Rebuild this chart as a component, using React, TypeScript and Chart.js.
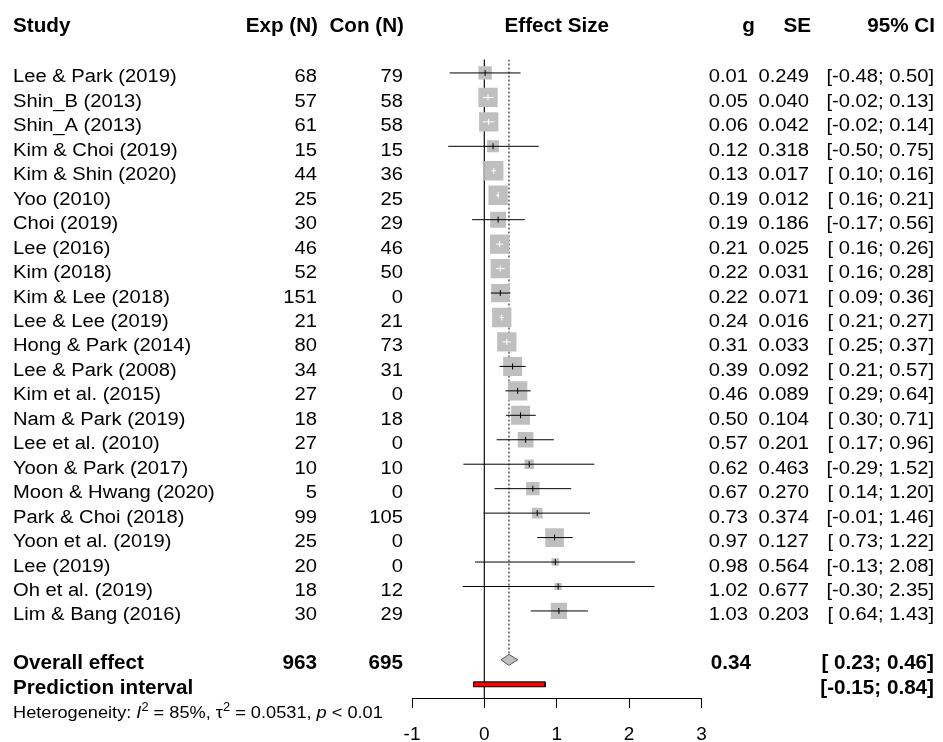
import React, { useEffect, useRef } from 'react';
import { Chart, registerables } from 'chart.js';

Chart.register(...registerables);

// ---------------- data ----------------
const studies = [
  'Lee & Park (2019)', 'Shin_B (2013)', 'Shin_A (2013)', 'Kim & Choi (2019)', 'Kim & Shin (2020)',
  'Yoo (2010)', 'Choi (2019)', 'Lee (2016)', 'Kim (2018)', 'Kim & Lee (2018)', 'Lee & Lee (2019)',
  'Hong & Park (2014)', 'Lee & Park (2008)', 'Kim et al. (2015)', 'Nam & Park (2019)', 'Lee et al. (2010)',
  'Yoon & Park (2017)', 'Moon & Hwang (2020)', 'Park & Choi (2018)', 'Yoon et al. (2019)', 'Lee (2019)',
  'Oh et al. (2019)', 'Lim & Bang (2016)',
];
const expN = [68, 57, 61, 15, 44, 25, 30, 46, 52, 151, 21, 80, 34, 27, 18, 27, 10, 5, 99, 25, 20, 18, 30];
const conN = [79, 58, 58, 15, 36, 25, 29, 46, 50, 0, 21, 73, 31, 0, 18, 0, 10, 0, 105, 0, 0, 12, 29];
const effect = [0.01, 0.05, 0.06, 0.12, 0.13, 0.19, 0.19, 0.21, 0.22, 0.22, 0.24, 0.31, 0.39, 0.46, 0.5, 0.57, 0.62, 0.67, 0.73, 0.97, 0.98, 1.02, 1.03];
const seValues = [0.249, 0.04, 0.042, 0.318, 0.017, 0.012, 0.186, 0.025, 0.031, 0.071, 0.016, 0.033, 0.092, 0.089, 0.104, 0.201, 0.463, 0.27, 0.374, 0.127, 0.564, 0.677, 0.203];
const ciLower = [-0.48, -0.02, -0.02, -0.5, 0.1, 0.16, -0.17, 0.16, 0.16, 0.09, 0.21, 0.25, 0.21, 0.29, 0.3, 0.17, -0.29, 0.14, -0.01, 0.73, -0.13, -0.3, 0.64];
const ciUpper = [0.5, 0.13, 0.14, 0.75, 0.16, 0.21, 0.56, 0.26, 0.28, 0.36, 0.27, 0.37, 0.57, 0.64, 0.71, 0.96, 1.52, 1.2, 1.46, 1.22, 2.08, 2.35, 1.43];
// relative weights (%) read from the square areas
const weights = [2.8, 5.9, 5.9, 2.3, 5.9, 5.9, 4.0, 5.9, 5.9, 5.3, 5.9, 5.9, 5.7, 5.9, 5.7, 3.9, 1.4, 2.8, 1.8, 5.5, 0.9, 0.8, 4.2];

const headers = ['Study', 'Exp (N)', 'Con (N)', 'Effect Size', 'g', 'SE', '95% CI'];
const overallLabel = 'Overall effect';
const predictionLabel = 'Prediction interval';
const totalExp = 963;
const totalCon = 695;
const overallEffect = 0.34;
const overallLower = 0.23;
const overallUpper = 0.46;
const predLower = -0.15;
const predUpper = 0.84;
const hetI2 = '85%';
const hetTau2 = '0.0531';
const hetP = '< 0.01';
const xTicks = [-1, 0, 1, 2, 3];

// ---------------- style constants ----------------
const FAMILY = '"Liberation Sans", Arial, Helvetica, sans-serif';
const REG_FONT = `18px ${FAMILY}`;
const REG_SX = 1.12;
const BOLD_FONT = `bold 19.5px ${FAMILY}`;
const BOLD_SX = 1.06;
const BOX_SCALE = 7.95; // px per sqrt(weight %)
const BOX_COLOR = '#bfbfbf';
const DIAMOND_HALF = 0.225; // in row units
const PI_HALF = 0.1; // in row units
const BASELINE_OFFSET = 9.5;

const OVERALL_ROW = studies.length + 1;
const PRED_ROW = studies.length + 2;
const HEADER_ROW = -2.06;
const HET_ROW = PRED_ROW + 1;
const Y_MIN = -0.55;
const Y_MAX = PRED_ROW + 0.56;

const boxSide = (i: number) => BOX_SCALE * Math.sqrt(weights[i]);
const fmtCI = (v: number) => (v >= 0 ? ' ' : '') + v.toFixed(2);
const ciText = (lo: number, hi: number) => `[${fmtCI(lo)}; ${hi.toFixed(2)}]`;

function ciInsideBox(chart: any, i: number) {
  const xs = chart.scales.x;
  const w = xs.getPixelForValue(ciUpper[i]) - xs.getPixelForValue(ciLower[i]);
  return w < boxSide(i);
}

const textPlugin = {
  id: 'forestText',
  afterDraw(chart: any) {
    const ctx: CanvasRenderingContext2D = chart.ctx;
    const ys = chart.scales.y;
    const area = chart.chartArea;
    const put = (txt: string, x: number, base: number, align: CanvasTextAlign, font: string, sx: number) => {
      ctx.save();
      ctx.font = font;
      ctx.fillStyle = '#000';
      ctx.textAlign = align;
      ctx.textBaseline = 'alphabetic';
      ctx.translate(x, base);
      ctx.scale(sx, 1);
      ctx.fillText(txt, 0, 0);
      ctx.restore();
    };
    const base = (row: number) => ys.getPixelForValue(row) + BASELINE_OFFSET;

    // header
    const hb = base(HEADER_ROW);
    put(headers[0], 13, hb, 'left', BOLD_FONT, BOLD_SX);
    put(headers[1], 318, hb, 'right', BOLD_FONT, BOLD_SX);
    put(headers[2], 404, hb, 'right', BOLD_FONT, BOLD_SX);
    put(headers[3], (area.left + area.right) / 2, hb, 'center', BOLD_FONT, BOLD_SX);
    put(headers[4], 755, hb, 'right', BOLD_FONT, BOLD_SX);
    put(headers[5], 811, hb, 'right', BOLD_FONT, BOLD_SX);
    put(headers[6], 935, hb, 'right', BOLD_FONT, BOLD_SX);

    // study rows
    studies.forEach((s, i) => {
      const b = base(i);
      put(s, 13, b, 'left', REG_FONT, REG_SX);
      put(String(expN[i]), 317, b, 'right', REG_FONT, REG_SX);
      put(String(conN[i]), 403, b, 'right', REG_FONT, REG_SX);
      put(effect[i].toFixed(2), 748, b, 'right', REG_FONT, REG_SX);
      put(seValues[i].toFixed(3), 809, b, 'right', REG_FONT, REG_SX);
      put(ciText(ciLower[i], ciUpper[i]), 934, b, 'right', REG_FONT, REG_SX);
    });

    // overall
    const ob = base(OVERALL_ROW);
    put(overallLabel, 13, ob, 'left', BOLD_FONT, BOLD_SX);
    put(String(totalExp), 317, ob, 'right', BOLD_FONT, BOLD_SX);
    put(String(totalCon), 403, ob, 'right', BOLD_FONT, BOLD_SX);
    put(overallEffect.toFixed(2), 751, ob, 'right', BOLD_FONT, BOLD_SX);
    put(ciText(overallLower, overallUpper), 934, ob, 'right', BOLD_FONT, BOLD_SX);

    // prediction interval
    const pb = base(PRED_ROW);
    put(predictionLabel, 13, pb, 'left', BOLD_FONT, BOLD_SX);
    put(ciText(predLower, predUpper), 934, pb, 'right', BOLD_FONT, BOLD_SX);

    // heterogeneity (sequential segments)
    const hetBase = base(HET_ROW);
    const HFONT = `17px ${FAMILY}`;
    const HIT = `italic 17px ${FAMILY}`;
    const HSUP = `12px ${FAMILY}`;
    const HSX = 1.07;
    let x = 13;
    const seg = (t: string, font: string, dy = 0) => {
      ctx.save();
      ctx.font = font;
      const w = ctx.measureText(t).width * HSX;
      ctx.restore();
      put(t, x, hetBase + dy, 'left', font, HSX);
      x += w;
    };
    seg('Heterogeneity: ', HFONT);
    seg('I', HIT);
    seg('2', HSUP, -7);
    seg(` = ${hetI2}, `, HFONT);
    seg('\u03C4', HFONT);
    seg('2', HSUP, -7);
    seg(` = ${hetTau2}, `, HFONT);
    seg('p', HIT);
    seg(` ${hetP}`, HFONT);
  },
};

export default function App() {
  const ref = useRef<HTMLCanvasElement>(null);

  useEffect(() => {
    const canvas = ref.current;
    if (!canvas) return;

    const rows = studies.map((_, i) => i);

    const ciData: any[] = [];
    rows.forEach((i) => {
      ciData.push({ x: ciLower[i], y: i }, { x: ciUpper[i], y: i }, { x: effect[i], y: null });
    });

    const chart = new Chart(canvas, {
      type: 'line',
      data: {
        datasets: [
          {
            // centre ticks
            data: rows.map((i) => ({ x: effect[i], y: i })),
            showLine: false,
            pointStyle: 'line',
            pointRotation: 90,
            pointRadius: 3,
            pointBorderWidth: 1,
            pointBorderColor: (c: any) => (ciInsideBox(c.chart, c.dataIndex) ? '#ffffff' : '#000000'),
            order: 0,
          } as any,
          {
            // confidence intervals
            data: ciData,
            borderColor: '#000000',
            borderWidth: 1,
            pointRadius: 0,
            spanGaps: false,
            segment: {
              borderColor: (c: any) => {
                const i = Math.floor(c.p0DataIndex / 3);
                return c.p1.x - c.p0.x < boxSide(i) ? '#ffffff' : '#000000';
              },
            },
            order: 1,
          } as any,
          {
            // overall diamond
            data: [
              { x: overallLower, y: OVERALL_ROW },
              { x: overallEffect, y: OVERALL_ROW - DIAMOND_HALF },
              { x: overallUpper, y: OVERALL_ROW },
              { x: overallEffect, y: OVERALL_ROW + DIAMOND_HALF },
              { x: overallLower, y: OVERALL_ROW },
            ],
            borderColor: '#555555',
            borderWidth: 1,
            backgroundColor: BOX_COLOR,
            fill: 'shape',
            pointRadius: 0,
            order: 2,
          } as any,
          {
            // prediction interval
            data: [
              { x: predLower, y: PRED_ROW - PI_HALF },
              { x: predUpper, y: PRED_ROW - PI_HALF },
              { x: predUpper, y: PRED_ROW + PI_HALF },
              { x: predLower, y: PRED_ROW + PI_HALF },
              { x: predLower, y: PRED_ROW - PI_HALF },
            ],
            borderColor: '#000000',
            borderWidth: 1,
            backgroundColor: '#ff0000',
            fill: 'shape',
            pointRadius: 0,
            order: 3,
          } as any,
          {
            // study squares
            data: rows.map((i) => ({ x: effect[i], y: i })),
            showLine: false,
            pointStyle: 'rect',
            pointRadius: rows.map((i) => boxSide(i) / Math.SQRT2),
            pointBackgroundColor: BOX_COLOR,
            pointBorderWidth: 0,
            order: 4,
          } as any,
          {
            // overall effect dotted line
            data: [
              { x: overallEffect, y: Y_MIN },
              { x: overallEffect, y: OVERALL_ROW - DIAMOND_HALF },
            ],
            borderColor: '#000000',
            borderWidth: 1,
            borderDash: [2, 2],
            pointRadius: 0,
            order: 5,
          } as any,
          {
            // no-effect line
            data: [
              { x: 0, y: Y_MIN },
              { x: 0, y: Y_MAX },
            ],
            borderColor: '#222222',
            borderWidth: 1,
            pointRadius: 0,
            order: 6,
          } as any,
        ],
      },
      options: {
        responsive: false,
        animation: false,
        events: [],
        layout: { padding: { left: 412, right: 241.5, top: 59.5, bottom: 0 } },
        plugins: { legend: { display: false }, tooltip: { enabled: false } },
        scales: {
          x: {
            type: 'linear',
            position: 'bottom',
            min: xTicks[0],
            max: xTicks[xTicks.length - 1],
            afterBuildTicks: (s: any) => {
              s.ticks = xTicks.map((v) => ({ value: v }));
            },
            afterFit: (s: any) => {
              s.height = 44;
            },
            ticks: {
              color: '#000000',
              font: { family: FAMILY, size: 19 },
              padding: 15,
              maxRotation: 0,
              autoSkip: false,
            },
            grid: {
              drawOnChartArea: false,
              drawTicks: true,
              tickLength: 10,
              tickColor: '#000000',
              color: '#000000',
            },
            border: { display: true, color: '#000000', width: 1 },
          },
          y: {
            type: 'linear',
            display: false,
            reverse: true,
            min: Y_MIN,
            max: Y_MAX,
          },
        },
      } as any,
      plugins: [textPlugin as any],
    });

    return () => chart.destroy();
  }, []);

  return (
    <div style={{ position: 'absolute', left: 0, top: 0, width: 943, height: 742, background: '#ffffff' }}>
      <canvas ref={ref} width={943} height={742} style={{ width: 943, height: 742, display: 'block' }} />
    </div>
  );
}
